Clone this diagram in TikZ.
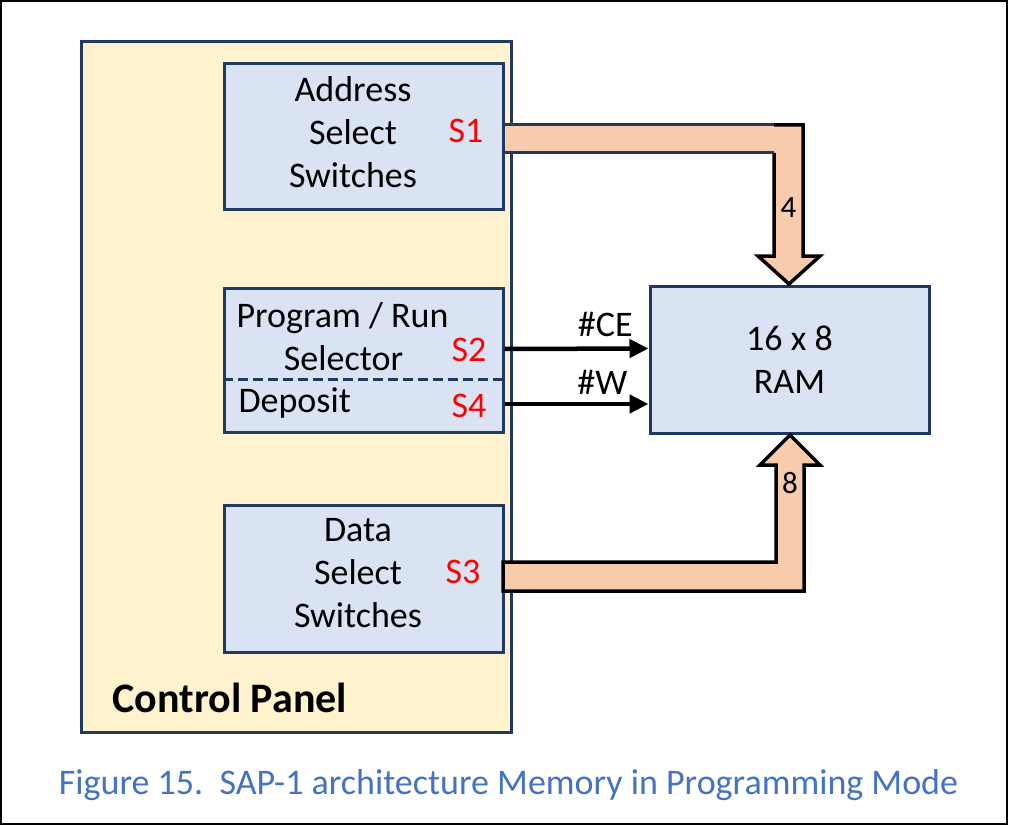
\documentclass[tikz,border=0pt]{standalone}
\usepackage{fontspec}
\setmainfont{Carlito}
\usepackage{xcolor}
\usetikzlibrary{positioning,arrows.meta}

\definecolor{navy}{RGB}{32,56,100}
\definecolor{boxblue}{RGB}{218,227,243}
\definecolor{panelyellow}{RGB}{255,242,204}
\definecolor{busorange}{RGB}{248,203,173}
\definecolor{capblue}{RGB}{68,114,196}

\begin{document}
\begin{tikzpicture}[
        x=1pt, y=-1pt,
        line width=3pt,
        inner sep=0pt,
        font=\fontsize{36}{43}\selectfont,
        block/.style={draw=navy, fill=boxblue, minimum width=279pt},
        switchlbl/.style={text=red, anchor=base},
        sig/.style={-{Triangle[length=19pt,width=18pt]}, line width=4.5pt},
        bus/.style={fill=busorange, draw=black, line width=3.5pt},
        buslbl/.style={font=\fontsize{31}{36}\selectfont}]

        % FRAME
        \useasboundingbox (0,0) rectangle (1011,826);
        \draw[line width=2pt] (1,1) rectangle (1007,824);

        % NODES
        % control panel
        \node[draw=navy, fill=panelyellow, minimum width=430pt, minimum height=690pt] (panel) at (296,387) {};
        \node[anchor=base west, font=\fontsize{42}{49}\selectfont\bfseries] (paneltitle) at (111,712) {Control Panel};
        % address switches
        \node[block, minimum height=146pt] (addr) at (363.5,137) {};
        \node[align=center] (addrtext) at (353,132.5) {Address\\Select\\Switches};
        \node[switchlbl] (s1) at (466,143) {S1};
        % program / run and deposit
        \node[block, minimum height=144pt] (prog) at (363.5,360) {};
        \draw[navy, dash pattern=on 10pt off 5pt] ([yshift=-19pt]prog.west) -- ([yshift=-19pt]prog.east);
        \node[anchor=base] (progtext) at (342.5,327) {Program / Run};
        \node[anchor=base] (seltext) at (343.5,370) {Selector};
        \node[anchor=base west] (deptext) at (237,412) {Deposit};
        \node[switchlbl] (s2) at (469,361) {S2};
        \node[switchlbl] (s4) at (469,417) {S4};
        % data switches
        \node[block, minimum height=147pt] (data) at (363.5,578.5) {};
        \node[align=center] (datatext) at (358,573) {Data\\Select\\Switches};
        \node[switchlbl] (s3) at (463,583) {S3};
        % memory
        \node[block, minimum height=147pt, align=center] (ram) at (789.5,359.5) {16 x 8\\RAM};
        % caption
        \node[anchor=base, text=capblue, font=\fontsize{36}{42}\selectfont] (caption) at (508.5,794) {Figure 15.~~SAP-1 architecture Memory in Programming Mode};

        % ARROWS
        % control lines
        \draw[sig] ([yshift=11pt]prog.east) -- node[pos=0.70, above=10pt] (ce) {\#CE} ([yshift=11pt]ram.west);
        \draw[sig] ([yshift=-44pt]prog.east) -- node[pos=0.68, above=7pt] (we) {\#W} ([yshift=-44.5pt]ram.west);
        % address bus
        \fill[busorange] (505,125) -- (803,125) -- (803,256) -- (820,256) -- (789,284) -- (758,256) -- (774,256) -- (774,153) -- (505,153) -- cycle;
        \draw[navy] (505,125) -- (774,125) (505,153) -- (774,153);
        \draw[line width=3.5pt] (774,125) -- (803,125) -- (803,256) -- (820,256) -- (789,284) -- (758,256) -- (774,256) -- (774,153);
        \node[buslbl] (busa) at (788.5,208) {4};
        % data bus
        \filldraw[bus] (503,562) -- (776,562) -- (776,465) -- (760,465) -- (790,435) -- (820,465) -- (804,465) -- (804,591) -- (503,591) -- cycle;
        \node[buslbl] (busd) at (790,483) {8};
\end{tikzpicture}
\end{document}
